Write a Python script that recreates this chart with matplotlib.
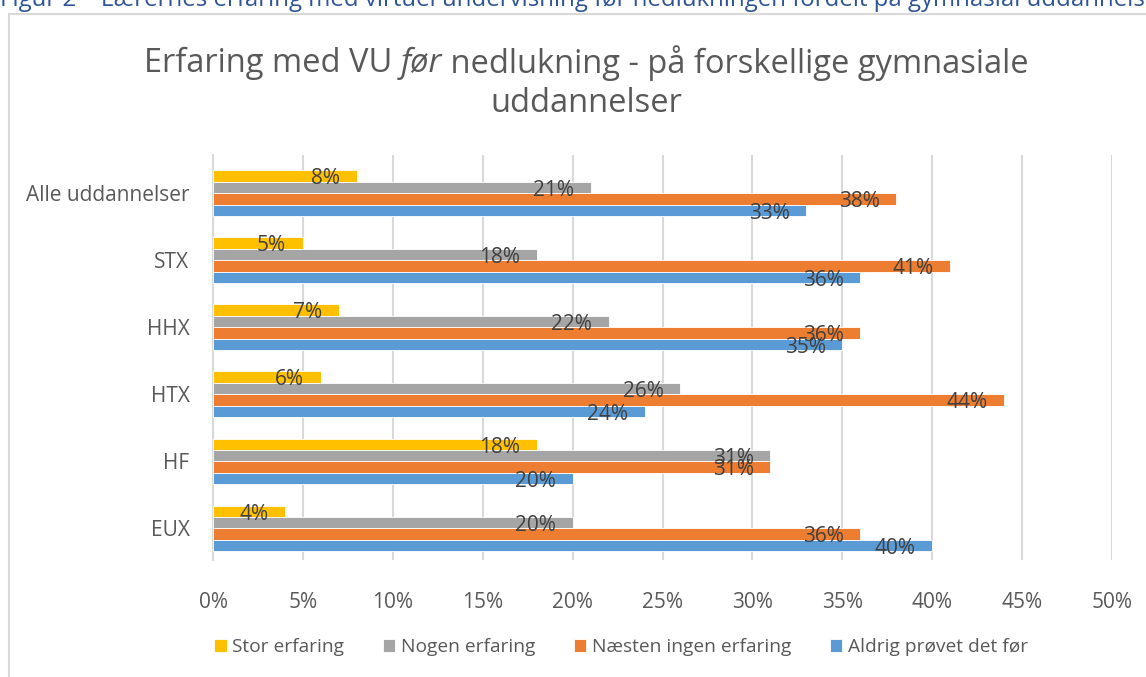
import matplotlib
matplotlib.use("Agg")
import matplotlib.pyplot as plt
import numpy as np
from matplotlib.patches import Rectangle

categories = ["Alle uddannelser", "STX", "HHX", "HTX", "HF", "EUX"]
series = ["Stor erfaring", "Nogen erfaring", "Næsten ingen erfaring", "Aldrig prøvet det før"]
stor = [8, 5, 7, 6, 18, 4]
nogen = [21, 18, 22, 26, 31, 20]
naesten = [38, 41, 36, 44, 31, 36]
aldrig = [33, 36, 35, 24, 20, 40]
colors = ["#FFC000", "#A5A5A5", "#ED7D31", "#5B9BD5"]
xticks = [0, 5, 10, 15, 20, 25, 30, 35, 40, 45, 50]

plt.rcParams["font.family"] = ["Open Sans", "DejaVu Sans"]

fig = plt.figure(figsize=(11.46, 6.77), dpi=100)
W, H = 1146, 677

# outer chart border (cut off at right and bottom)
fig.patches.append(Rectangle((9 / W, -0.1), 1.2, 1 - 14 / H + 0.1, transform=fig.transFigure,
                             fill=False, edgecolor="#D9D9D9", lw=1.5))

# cut-off caption at the very top
fig.text(0, 1 - 6 / H, "Figur 2 – Lærernes erfaring med virtuel undervisning før nedlukningen fordelt på gymnasial uddannelse",
         color="#2F5597", fontsize=17.3, va="baseline", ha="left")

ax = fig.add_axes([213 / W, 1 - 560 / H, (1112 - 213) / W, (560 - 155) / H])

y = np.arange(len(categories))
h = 0.171
data = [stor, nogen, naesten, aldrig]
for i, (name, vals, c) in enumerate(zip(series, data, colors)):
    pos = y + (i - 1.5) * h
    ax.barh(pos, vals, height=h, color=c, edgecolor="white", linewidth=0.6, label=name, zorder=3)
    for p, v in zip(pos, vals):
        ax.annotate(f"{v}%", (v, p), xytext=(-12, -2), textcoords="offset points",
                    ha="right", va="center", fontsize=15, color="#404040", zorder=4)

ax.set_xlim(0, 50)
ax.set_ylim(5.47, -0.57)
ax.set_xticks(xticks)
ax.set_xticklabels([f"{t}%" for t in xticks])
ax.set_yticks(y)
ax.set_yticklabels(categories)
ax.tick_params(axis="both", length=0, labelsize=15, labelcolor="#595959")
ax.tick_params(axis="x", pad=23)
ax.tick_params(axis="y", pad=17)
ax.grid(axis="x", color="#D9D9D9", lw=1.5, zorder=0)
for s in ["top", "right", "bottom"]:
    ax.spines[s].set_visible(False)
ax.spines["left"].set_color("#D9D9D9")
ax.spines["left"].set_linewidth(1.5)
ax.spines["left"].set_zorder(1)

# title with italic word
t1a = fig.text(0, 1 - 63 / H, "Erfaring med VU ", fontsize=23.5, color="#595959", va="center", ha="left")
t1b = fig.text(0, 1 - 63 / H, "før", fontsize=23.5, color="#595959", va="center", ha="left", style="italic")
t1c = fig.text(0, 1 - 63 / H, " nedlukning - på forskellige gymnasiale", fontsize=23.5, color="#595959", va="center", ha="left")
fig.text(586 / W, 1 - 104 / H, "uddannelser", fontsize=23.5, color="#595959", va="center", ha="center")
fig.canvas.draw()
r = fig.canvas.get_renderer()
wa = t1a.get_window_extent(r).width
wb = t1b.get_window_extent(r).width
wc = t1c.get_window_extent(r).width
x0 = 586 - (wa + wb + wc) / 2
t1a.set_x(x0 / W)
t1b.set_x((x0 + wa) / W)
t1c.set_x((x0 + wa + wb) / W)

leg = fig.legend(loc="center", bbox_to_anchor=(621 / W, 1 - 647 / H), ncol=4, frameon=False,
                 fontsize=13.8, handlelength=0.65, handleheight=0.65, handletextpad=0.3,
                 columnspacing=2.0, labelcolor="#595959")

fig.savefig("out.png", dpi=100)
